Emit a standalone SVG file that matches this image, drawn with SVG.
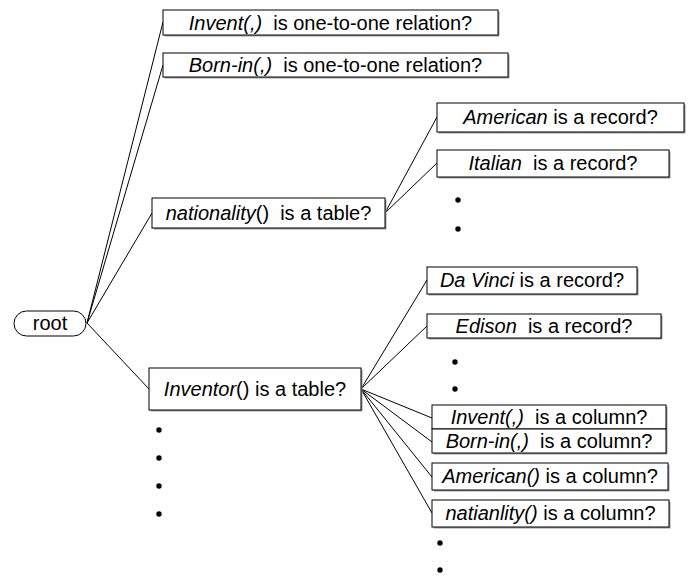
<svg xmlns="http://www.w3.org/2000/svg" width="690" height="576" viewBox="0 0 690 576">
<style>
.sh{fill:#999;stroke:none}
.bx{fill:#fff;stroke:#000;stroke-width:1}
.t{font-family:"Liberation Sans",Arial,sans-serif;font-size:20px;fill:#000;text-anchor:middle;white-space:pre}
.i{font-style:italic}
.ln{stroke:#000;stroke-width:1;fill:none}
.dot{fill:#000}
</style>
<rect width="690" height="576" fill="#fff"/>
<g id="connectors">
<line class="ln" x1="87" y1="323" x2="163" y2="22"/>
<line class="ln" x1="87" y1="323" x2="163" y2="65"/>
<line class="ln" x1="87" y1="323" x2="152" y2="213"/>
<line class="ln" x1="87" y1="323" x2="149" y2="389"/>
<line class="ln" x1="385" y1="213" x2="437" y2="117"/>
<line class="ln" x1="385" y1="213" x2="437" y2="163"/>
<line class="ln" x1="361" y1="389" x2="427" y2="280"/>
<line class="ln" x1="361" y1="389" x2="427" y2="326"/>
<line class="ln" x1="361" y1="389" x2="432" y2="418"/>
<line class="ln" x1="361" y1="389" x2="432" y2="442"/>
<line class="ln" x1="361" y1="389" x2="432" y2="477"/>
<line class="ln" x1="361" y1="389" x2="432" y2="513"/>
</g>
<g id="root">
<rect class="bx" x="14" y="311" width="72" height="25" rx="12.5"/>
<text class="t" x="50" y="330">root</text>
</g>
<g id="invent-rel">
<rect class="sh" x="164.5" y="11.5" width="335" height="25"/>
<rect class="bx" x="163" y="10" width="335" height="25"/>
<text class="t" x="330.5" y="30" xml:space="preserve"><tspan class="i">Invent(,)</tspan>  is one-to-one relation?</text>
</g>
<g id="bornin-rel">
<rect class="sh" x="164.5" y="54.5" width="345" height="24"/>
<rect class="bx" x="163" y="53" width="345" height="24"/>
<text class="t" x="335.5" y="72" xml:space="preserve"><tspan class="i">Born-in(,)</tspan>  is one-to-one relation?</text>
</g>
<g id="american-rec">
<rect class="sh" x="438.5" y="104.5" width="247" height="29"/>
<rect class="bx" x="437" y="103" width="247" height="29"/>
<text class="t" x="560.5" y="124" xml:space="preserve"><tspan class="i">American</tspan> is a record?</text>
</g>
<g id="italian-rec">
<rect class="sh" x="438.5" y="151.5" width="232" height="27"/>
<rect class="bx" x="437" y="150" width="232" height="27"/>
<text class="t" x="553" y="170" xml:space="preserve"><tspan class="i">Italian</tspan>  is a record?</text>
</g>
<g id="nat-dots">
<circle class="dot" cx="458" cy="200" r="2.7"/>
<circle class="dot" cx="458" cy="229" r="2.7"/>
</g>
<g id="nationality">
<rect class="sh" x="153.5" y="199.5" width="233" height="30"/>
<rect class="bx" x="152" y="198" width="233" height="30"/>
<text class="t" x="268.5" y="220" xml:space="preserve"><tspan class="i">nationality</tspan>()  is a table?</text>
</g>
<g id="davinci-rec">
<rect class="sh" x="428.5" y="268.5" width="210" height="27"/>
<rect class="bx" x="427" y="267" width="210" height="27"/>
<text class="t" x="532" y="287" xml:space="preserve"><tspan class="i">Da Vinci</tspan> is a record?</text>
</g>
<g id="edison-rec">
<rect class="sh" x="428.5" y="315.5" width="234" height="24"/>
<rect class="bx" x="427" y="314" width="234" height="24"/>
<text class="t" x="544" y="333" xml:space="preserve"><tspan class="i">Edison</tspan>  is a record?</text>
</g>
<g id="inv-dots">
<circle class="dot" cx="455" cy="362" r="2.7"/>
<circle class="dot" cx="455" cy="389" r="2.7"/>
</g>
<g id="inventor">
<rect class="sh" x="150.5" y="369.5" width="212" height="42"/>
<rect class="bx" x="149" y="368" width="212" height="42"/>
<text class="t" x="255" y="396" xml:space="preserve"><tspan class="i">Inventor</tspan>() is a table?</text>
</g>
<g id="invent-col">
<rect class="sh" x="433.5" y="406.5" width="234" height="24"/>
<rect class="bx" x="432" y="405" width="234" height="24"/>
<text class="t" x="549" y="424" xml:space="preserve"><tspan class="i">Invent(,)</tspan>  is a column?</text>
</g>
<g id="bornin-col">
<rect class="sh" x="433.5" y="430.5" width="234" height="24"/>
<rect class="bx" x="432" y="429" width="234" height="24"/>
<text class="t" x="549" y="448" xml:space="preserve"><tspan class="i">Born-in(,)</tspan>  is a column?</text>
</g>
<g id="american-col">
<rect class="sh" x="433.5" y="464.5" width="236" height="27"/>
<rect class="bx" x="432" y="463" width="236" height="27"/>
<text class="t" x="550" y="483" xml:space="preserve"><tspan class="i">American()</tspan> is a column?</text>
</g>
<g id="nat-col">
<rect class="sh" x="433.5" y="501.5" width="237" height="27"/>
<rect class="bx" x="432" y="500" width="237" height="27"/>
<text class="t" x="550.5" y="520" xml:space="preserve"><tspan class="i">natianlity()</tspan> is a column?</text>
</g>
<g id="col-dots">
<circle class="dot" cx="440" cy="543" r="2.7"/>
<circle class="dot" cx="440" cy="570" r="2.7"/>
</g>
<g id="left-dots">
<circle class="dot" cx="159" cy="430" r="2.7"/>
<circle class="dot" cx="159" cy="458" r="2.7"/>
<circle class="dot" cx="159" cy="486" r="2.7"/>
<circle class="dot" cx="159" cy="514" r="2.7"/>
</g>
</svg>
